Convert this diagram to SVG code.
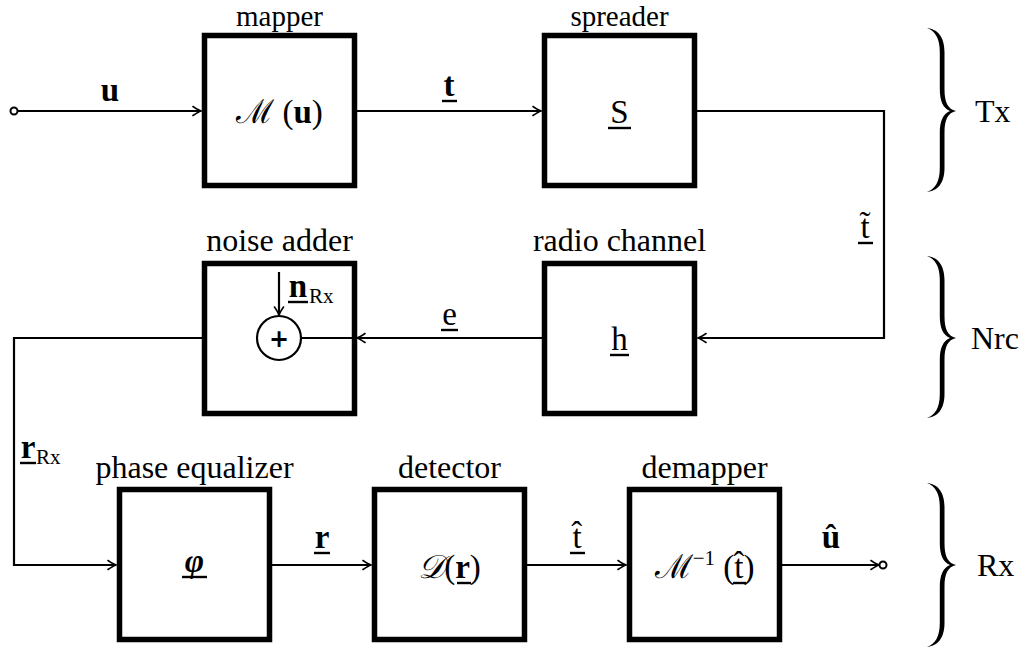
<svg xmlns="http://www.w3.org/2000/svg" width="1030" height="651" viewBox="0 0 1030 651">
<style>
.box{fill:#fff;stroke:#000;stroke-width:5.5}
.ln{fill:none;stroke:#000;stroke-width:2.2}
.t{font-family:'Liberation Serif',serif;font-size:32px;fill:#000}
.tt{font-family:'Liberation Serif',serif;font-size:29px;fill:#000}
.m{font-family:'Liberation Serif',serif;font-size:33px;fill:#000}
.b{font-weight:bold}
.s{font-family:'Liberation Serif',serif;font-size:21px;fill:#000}
.ul{stroke:#000;stroke-width:2.4}
.br{fill:#000;stroke:none}
</style>
<defs>
<marker id="arr" viewBox="-9 -6 11 12" refX="0" refY="0" markerWidth="11" markerHeight="12" orient="auto" markerUnits="userSpaceOnUse">
<path d="M-8,-4.5 Q-2.5,-0.8 0,0 Q-2.5,0.8 -8,4.5" fill="none" stroke="#000" stroke-width="1.6" stroke-linecap="round"/>
</marker>
</defs>

<g id="connectors">
<circle cx="14" cy="111" r="3.5" fill="#fff" stroke="#000" stroke-width="2"/>
<line class="ln" x1="18" y1="111" x2="201" y2="111" marker-end="url(#arr)"/>
<line class="ln" x1="357" y1="111" x2="541" y2="111" marker-end="url(#arr)"/>
<polyline class="ln" points="697,111 884,111 884,338 698,338" marker-end="url(#arr)"/>
<line class="ln" x1="543" y1="338" x2="357" y2="338" marker-end="url(#arr)"/>
<polyline class="ln" points="257,338 14,338 14,565 116,565" marker-end="url(#arr)"/>
<line class="ln" x1="272" y1="565" x2="371" y2="565" marker-end="url(#arr)"/>
<line class="ln" x1="527" y1="565" x2="626" y2="565" marker-end="url(#arr)"/>
<line class="ln" x1="782" y1="565" x2="879" y2="565" marker-end="url(#arr)"/>
<circle cx="883" cy="565" r="3.5" fill="#fff" stroke="#000" stroke-width="2"/>
</g>

<g id="mapper">
<rect class="box" x="204.5" y="35.5" width="150" height="150"/>
<text class="tt" x="279.5" y="26" text-anchor="middle">mapper</text>
<text class="m" x="279.5" y="123" text-anchor="middle">ℳ (<tspan class="b">u</tspan>)</text>
</g>

<g id="spreader">
<rect class="box" x="544.5" y="35.5" width="150" height="150"/>
<text class="tt" x="619.5" y="26" text-anchor="middle">spreader</text>
<text class="m" x="619.5" y="123" text-anchor="middle">S</text>
<line class="ul" x1="608" y1="128" x2="631" y2="128"/>
</g>

<g id="noise-adder">
<rect class="box" x="204.5" y="263.5" width="150" height="150"/>
<text class="t" x="279.5" y="251" text-anchor="middle">noise adder</text>
<line class="ln" x1="355" y1="338" x2="301" y2="338"/>
<line class="ln" x1="279" y1="272" x2="279" y2="315" marker-end="url(#arr)"/>
<circle cx="279" cy="338" r="22" fill="none" stroke="#000" stroke-width="2.2"/>
<text x="279" y="347" text-anchor="middle" font-family="DejaVu Sans, sans-serif" font-weight="bold" font-size="24">+</text>
<text class="m b" x="298" y="297" text-anchor="middle">n</text>
<line class="ul" x1="288" y1="302" x2="308" y2="302"/>
<text class="s" x="309" y="303">Rx</text>
</g>

<g id="radio-channel">
<rect class="box" x="544.5" y="263.5" width="150" height="150"/>
<text class="t" x="619.5" y="251" text-anchor="middle">radio channel</text>
<text class="m" x="619.5" y="350" text-anchor="middle">h</text>
<line class="ul" x1="610" y1="355" x2="629" y2="355"/>
</g>

<g id="phase-equalizer">
<rect class="box" x="119.5" y="489.5" width="150" height="150"/>
<text class="t" x="194.5" y="478" text-anchor="middle">phase equalizer</text>
<text class="m b" x="194.5" y="572" text-anchor="middle" font-style="italic">φ</text>
<line class="ul" x1="182" y1="577" x2="207" y2="577"/>
</g>

<g id="detector">
<rect class="box" x="374.5" y="489.5" width="150" height="150"/>
<text class="t" x="449.5" y="478" text-anchor="middle">detector</text>
<text class="m" x="449.5" y="578" text-anchor="middle"><tspan font-style="italic">𝒟</tspan>(<tspan class="b">r</tspan>)</text>
<line class="ul" x1="457" y1="583" x2="471" y2="583"/>
</g>

<g id="demapper">
<rect class="box" x="629.5" y="489.5" width="150" height="150"/>
<text class="t" x="704.5" y="478" text-anchor="middle">demapper</text>
<text class="m" x="704.5" y="578" text-anchor="middle">ℳ<tspan font-size="21" dy="-13">−1</tspan><tspan dy="13"> (t̂)</tspan></text>
<line class="ul" x1="733" y1="583" x2="746" y2="583"/>
</g>

<g id="edge-labels">
<text class="m b" x="110" y="101" text-anchor="middle">u</text>
<text class="m b" x="449" y="96" text-anchor="middle">t</text>
<line class="ul" x1="442" y1="101" x2="457" y2="101"/>
<text class="m" x="865" y="238" text-anchor="middle">t̃</text>
<line class="ul" x1="858" y1="243" x2="873" y2="243"/>
<text class="m" x="449.5" y="325" text-anchor="middle">e</text>
<line class="ul" x1="441" y1="330" x2="458" y2="330"/>
<text class="m b" x="28" y="458" text-anchor="middle">r</text>
<line class="ul" x1="20" y1="463" x2="36" y2="463"/>
<text class="s" x="36" y="464">Rx</text>
<text class="m b" x="322" y="548" text-anchor="middle">r</text>
<line class="ul" x1="314" y1="553" x2="330" y2="553"/>
<text class="m" x="577" y="548" text-anchor="middle">t̂</text>
<line class="ul" x1="570" y1="553" x2="585" y2="553"/>
<text class="m b" x="831" y="548" text-anchor="middle">û</text>
</g>

<g id="braces">
<path class="br" d="M927,28 C937,29 944.5,36 944.5,52 L944.5,89 C944.5,103 948,109 956,111 C948,113 944.5,119 944.5,133 L944.5,168 C944.5,184 937,191 927,192 C935,189 939.8,182 939.8,168 L939.8,133 C939.8,121 943,114 950,111 C943,108 939.8,101 939.8,89 L939.8,52 C939.8,38 935,31 927,28 Z"/>
<path class="br" d="M927,256 C937,257 944.5,264 944.5,280 L944.5,316 C944.5,330 948,336 956,338 C948,340 944.5,346 944.5,360 L944.5,394 C944.5,410 937,417 927,418 C935,415 939.8,408 939.8,394 L939.8,360 C939.8,348 943,341 950,338 C943,335 939.8,328 939.8,316 L939.8,280 C939.8,266 935,259 927,256 Z"/>
<path class="br" d="M927,483 C937,484 944.5,491 944.5,507 L944.5,543 C944.5,557 948,563 956,565 C948,567 944.5,573 944.5,587 L944.5,623 C944.5,639 937,646 927,647 C935,644 939.8,637 939.8,623 L939.8,587 C939.8,575 943,568 950,565 C943,562 939.8,555 939.8,543 L939.8,507 C939.8,493 935,486 927,483 Z"/>
<text class="t" x="975" y="122">Tx</text>
<text class="t" x="971" y="349">Nrc</text>
<text class="t" x="977" y="576">Rx</text>
</g>
</svg>
